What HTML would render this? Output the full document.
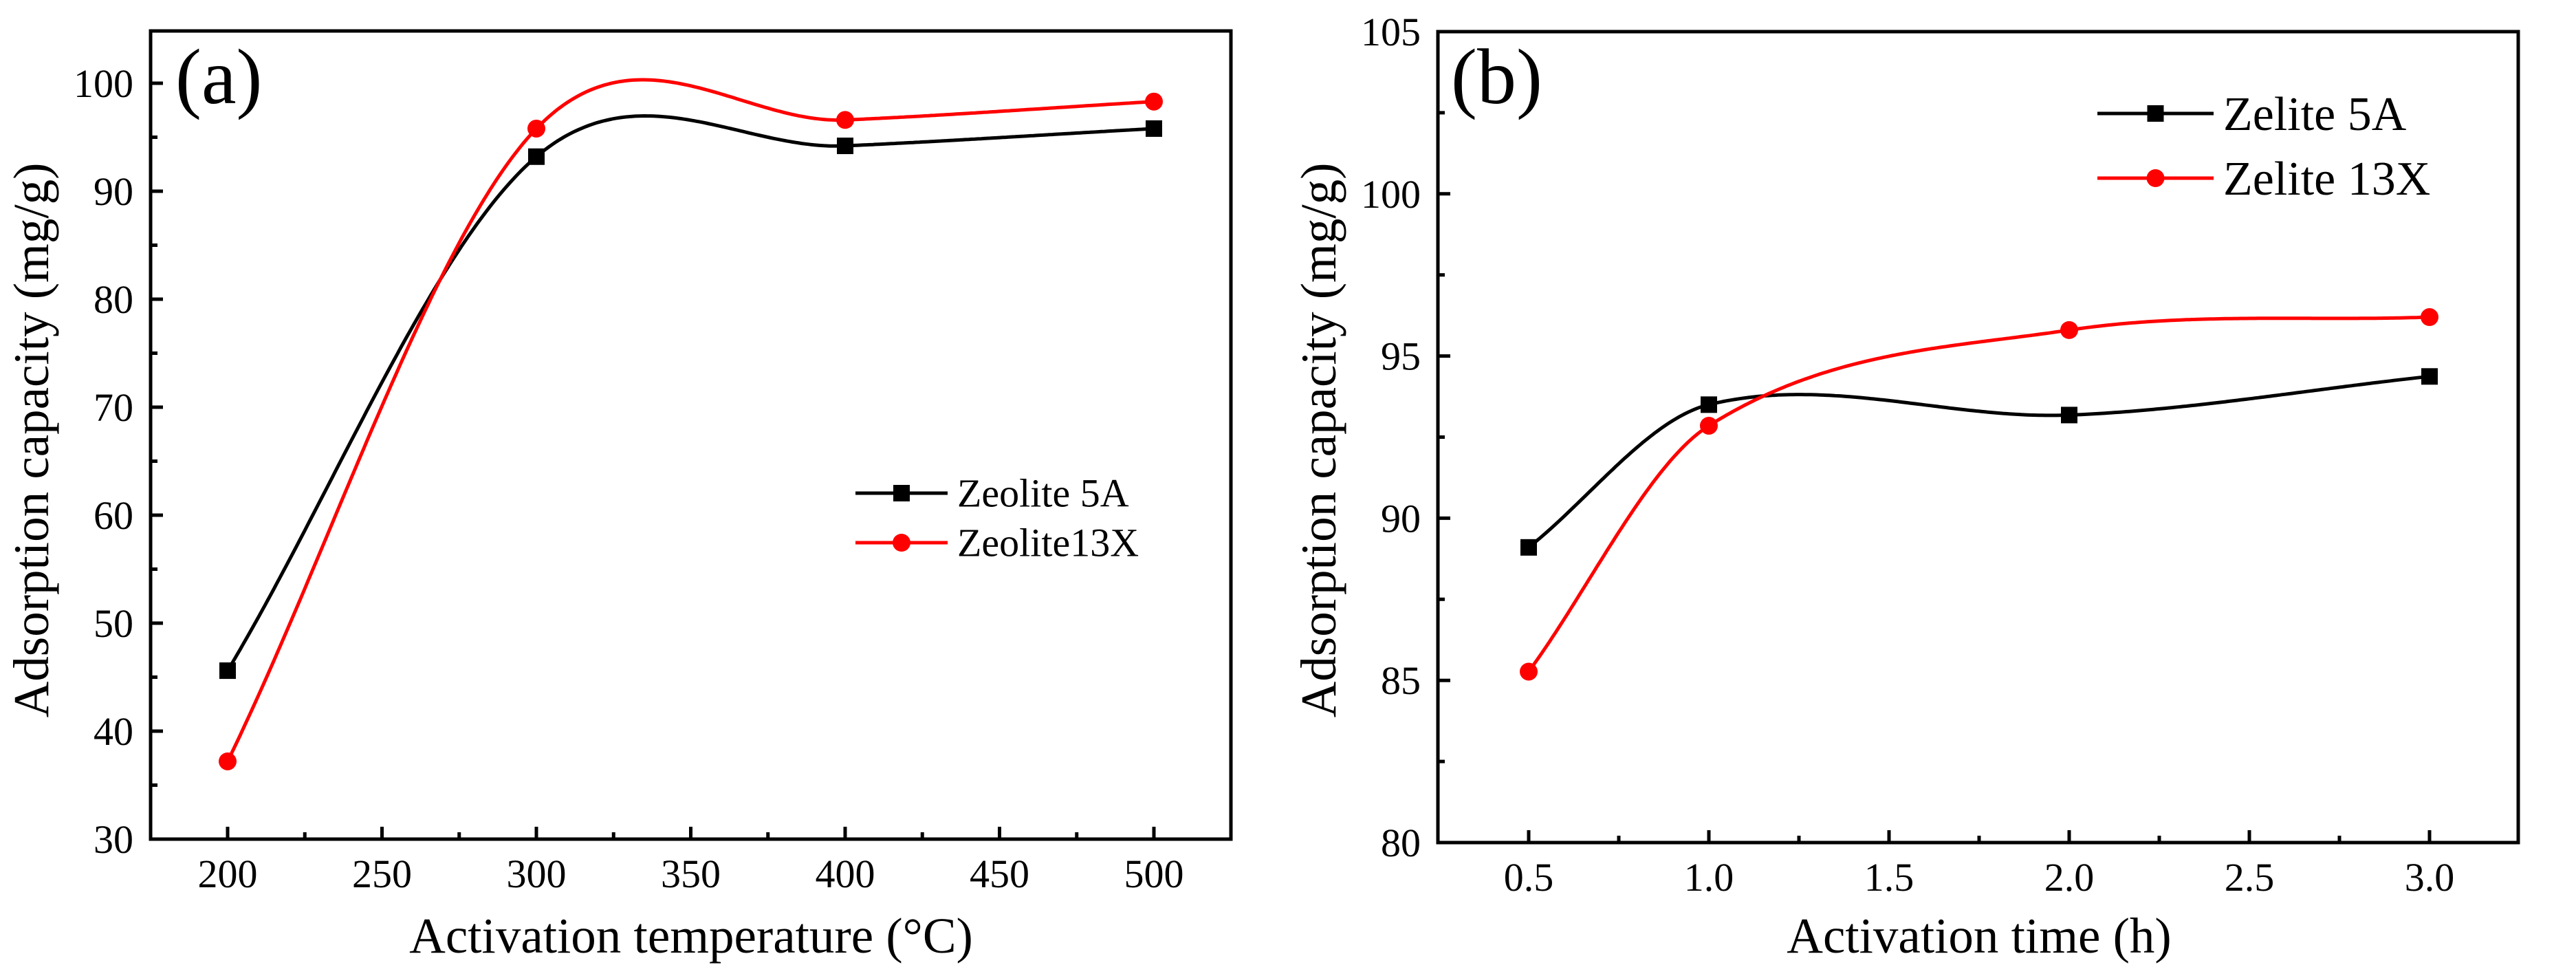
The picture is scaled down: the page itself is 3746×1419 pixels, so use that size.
<!DOCTYPE html>
<html><head><meta charset="utf-8"><style>
html,body{margin:0;padding:0;background:#fff;}
svg{display:block;font-family:"Liberation Serif",serif;}
</style></head><body>
<svg id="fig" width="3746" height="1419" viewBox="0 0 3746 1419" xmlns="http://www.w3.org/2000/svg"></svg>
<script>
// Panel (a) data
const tempCats = [200, 300, 400, 500];
const tempZ5A = [45.6, 93.2, 94.2, 95.8];
const tempZ13X = [37.2, 95.8, 96.6, 98.3];
const tempXTicks = [200, 250, 300, 350, 400, 450, 500];
const tempYTicks = [30, 40, 50, 60, 70, 80, 90, 100];
// Panel (b) data
const timeCats = [0.5, 1.0, 2.0, 3.0];
const timeZ5A = [89.1, 93.5, 93.18, 94.37];
const timeZ13X = [85.27, 92.85, 95.8, 96.2];
const timeXTicks = ["0.5", "1.0", "1.5", "2.0", "2.5", "3.0"];
const timeYTicks = [80, 85, 90, 95, 100, 105];

const NS = "http://www.w3.org/2000/svg";
const svg = document.getElementById("fig");
function mk(tag, attrs, parent) {
  const e = document.createElementNS(NS, tag);
  for (const k in attrs) e.setAttribute(k, attrs[k]);
  (parent || svg).appendChild(e);
  return e;
}
function spline(xs, ys) {
  const n = xs.length, m = [];
  for (let i = 0; i < n; i++) {
    if (i === 0) m.push((ys[1] - ys[0]) / (xs[1] - xs[0]));
    else if (i === n - 1) m.push((ys[n - 1] - ys[n - 2]) / (xs[n - 1] - xs[n - 2]));
    else m.push((ys[i + 1] - ys[i - 1]) / (xs[i + 1] - xs[i - 1]));
  }
  return function (x) {
    let i = 0;
    while (i < n - 2 && x > xs[i + 1]) i++;
    const h = xs[i + 1] - xs[i], t = (x - xs[i]) / h;
    const t2 = t * t, t3 = t2 * t;
    return (2 * t3 - 3 * t2 + 1) * ys[i] + (t3 - 2 * t2 + t) * h * m[i] +
      (-2 * t3 + 3 * t2) * ys[i + 1] + (t3 - t2) * h * m[i + 1];
  };
}

function panel(cfg) {
  const g = mk("g", {});
  
  
  const X = v => cfg.x0 + (v - cfg.xv0) * (cfg.x1 - cfg.x0) / (cfg.xv1 - cfg.xv0);
  const Y = v => cfg.y0 + (v - cfg.yv0) * (cfg.y1 - cfg.y0) / (cfg.yv1 - cfg.yv0);
  const fr = mk("rect", {x: cfg.L, y: cfg.T, width: cfg.R - cfg.L, height: cfg.B - cfg.T, fill: "none", stroke: "#000", "stroke-width": 5}, g);
  
  
  cfg.xTicks.forEach((t, i) => {
    const v = parseFloat(t), px = X(v);
    const tk = mk("line", {x1: px, x2: px, y1: cfg.B, y2: cfg.B - 18, stroke: "#000", "stroke-width": 5}, g);
    
    
    if (i < cfg.xTicks.length - 1) {
      const mv = (v + parseFloat(cfg.xTicks[i + 1])) / 2;
      const mt = mk("line", {x1: X(mv), x2: X(mv), y1: cfg.B, y2: cfg.B - 10, stroke: "#000", "stroke-width": 5}, g);
      
      
    }
    const tl = mk("text", {x: px, y: cfg.B + 70, "font-size": 58, "text-anchor": "middle"}, g);
    tl.textContent = t;
    
    
  });
  cfg.yTicks.forEach((v, i) => {
    const py = Y(v);
    const tk = mk("line", {x1: cfg.L, x2: cfg.L + 18, y1: py, y2: py, stroke: "#000", "stroke-width": 5}, g);
    
    
    if (i < cfg.yTicks.length - 1) {
      const mv = (v + cfg.yTicks[i + 1]) / 2;
      const mt = mk("line", {x1: cfg.L, x2: cfg.L + 10, y1: Y(mv), y2: Y(mv), stroke: "#000", "stroke-width": 5}, g);
      
      
    }
    const tl = mk("text", {x: cfg.L - 25, y: py + 20, "font-size": 58, "text-anchor": "end"}, g);
    tl.textContent = String(v);
    
    
  });
  const xt = mk("text", {x: cfg.xtX, y: 1385, "font-size": 73, "text-anchor": "middle"}, g);
  xt.textContent = cfg.xTitle;
  
  
  const yt = mk("text", {x: 0, y: 0, "font-size": 73, "text-anchor": "middle", transform: "translate(" + (cfg.ytX) + ",640) rotate(-90)"}, g);
  yt.textContent = "Adsorption capacity (mg/g)";
  
  
  const pl = mk("text", {x: cfg.plX, y: 150, "font-size": 114}, g);
  pl.textContent = cfg.label;
  
  
  cfg.series.forEach((s, si) => {
    const f = spline(cfg.cats, s.vals);
    let d = "";
    const a = cfg.cats[0], bnd = cfg.cats[cfg.cats.length - 1];
    for (let k = 0; k <= 300; k++) {
      const xv = a + (bnd - a) * k / 300;
      d += (k ? "L" : "M") + X(xv).toFixed(1) + "," + Y(f(xv)).toFixed(1);
    }
    const p = mk("path", {d: d, fill: "none", stroke: s.color, "stroke-width": 5}, g);
    
    
    s.vals.forEach((v, i) => {
      const cx = X(cfg.cats[i]), cy = Y(v);
      let m;
      if (s.shape === "sq") m = mk("rect", {x: cx - 12, y: cy - 12, width: 24, height: 24, fill: s.color}, g);
      else m = mk("circle", {cx: cx, cy: cy, r: 13, fill: s.color}, g);
      
      
    });
    const ly = cfg.legY[si];
    const ll = mk("line", {x1: cfg.legX0, x2: cfg.legX1, y1: ly, y2: ly, stroke: s.color, "stroke-width": 5}, g);
    
    
    const mx = (cfg.legX0 + cfg.legX1) / 2;
    let lm;
    if (s.shape === "sq") lm = mk("rect", {x: mx - 12, y: ly - 12, width: 24, height: 24, fill: s.color}, g);
    else lm = mk("circle", {cx: mx, cy: ly, r: 13, fill: s.color}, g);
    
    
    const lt = mk("text", {x: cfg.legX1 + 14, y: ly + cfg.legFs * 0.34, "font-size": cfg.legFs}, g);
    lt.textContent = s.label;
    
    
  });
}

panel({name: "panel-a", L: 219, R: 1790, T: 45, B: 1220,
  x0: 331, x1: 1678, xv0: 200, xv1: 500, y0: 1220, y1: 121, yv0: 30, yv1: 100,
  cats: tempCats, xTicks: tempXTicks.map(String), yTicks: tempYTicks,
  xTitle: "Activation temperature (°C)", xtX: 1005, ytX: 70, plX: 255, label: "(a)",
  legX0: 1244, legX1: 1378, legY: [717, 789], legFs: 58,
  series: [
    {key: "zeolite-5a", label: "Zeolite 5A", vals: tempZ5A, color: "#000", shape: "sq"},
    {key: "zeolite-13x", label: "Zeolite13X", vals: tempZ13X, color: "#f00", shape: "ci"}
  ]});
panel({name: "panel-b", L: 2091, R: 3662, T: 46, B: 1225,
  x0: 2223, x1: 3533, xv0: 0.5, xv1: 3.0, y0: 1225, y1: 46, yv0: 80, yv1: 105,
  cats: timeCats, xTicks: timeXTicks, yTicks: timeYTicks,
  xTitle: "Activation time (h)", xtX: 2878, ytX: 1942, plX: 2110, label: "(b)",
  legX0: 3050, legX1: 3219, legY: [165, 259], legFs: 70,
  series: [
    {key: "zelite-5a", label: "Zelite 5A", vals: timeZ5A, color: "#000", shape: "sq"},
    {key: "zelite-13x", label: "Zelite 13X", vals: timeZ13X, color: "#f00", shape: "ci"}
  ]});
</script>
</body></html>
